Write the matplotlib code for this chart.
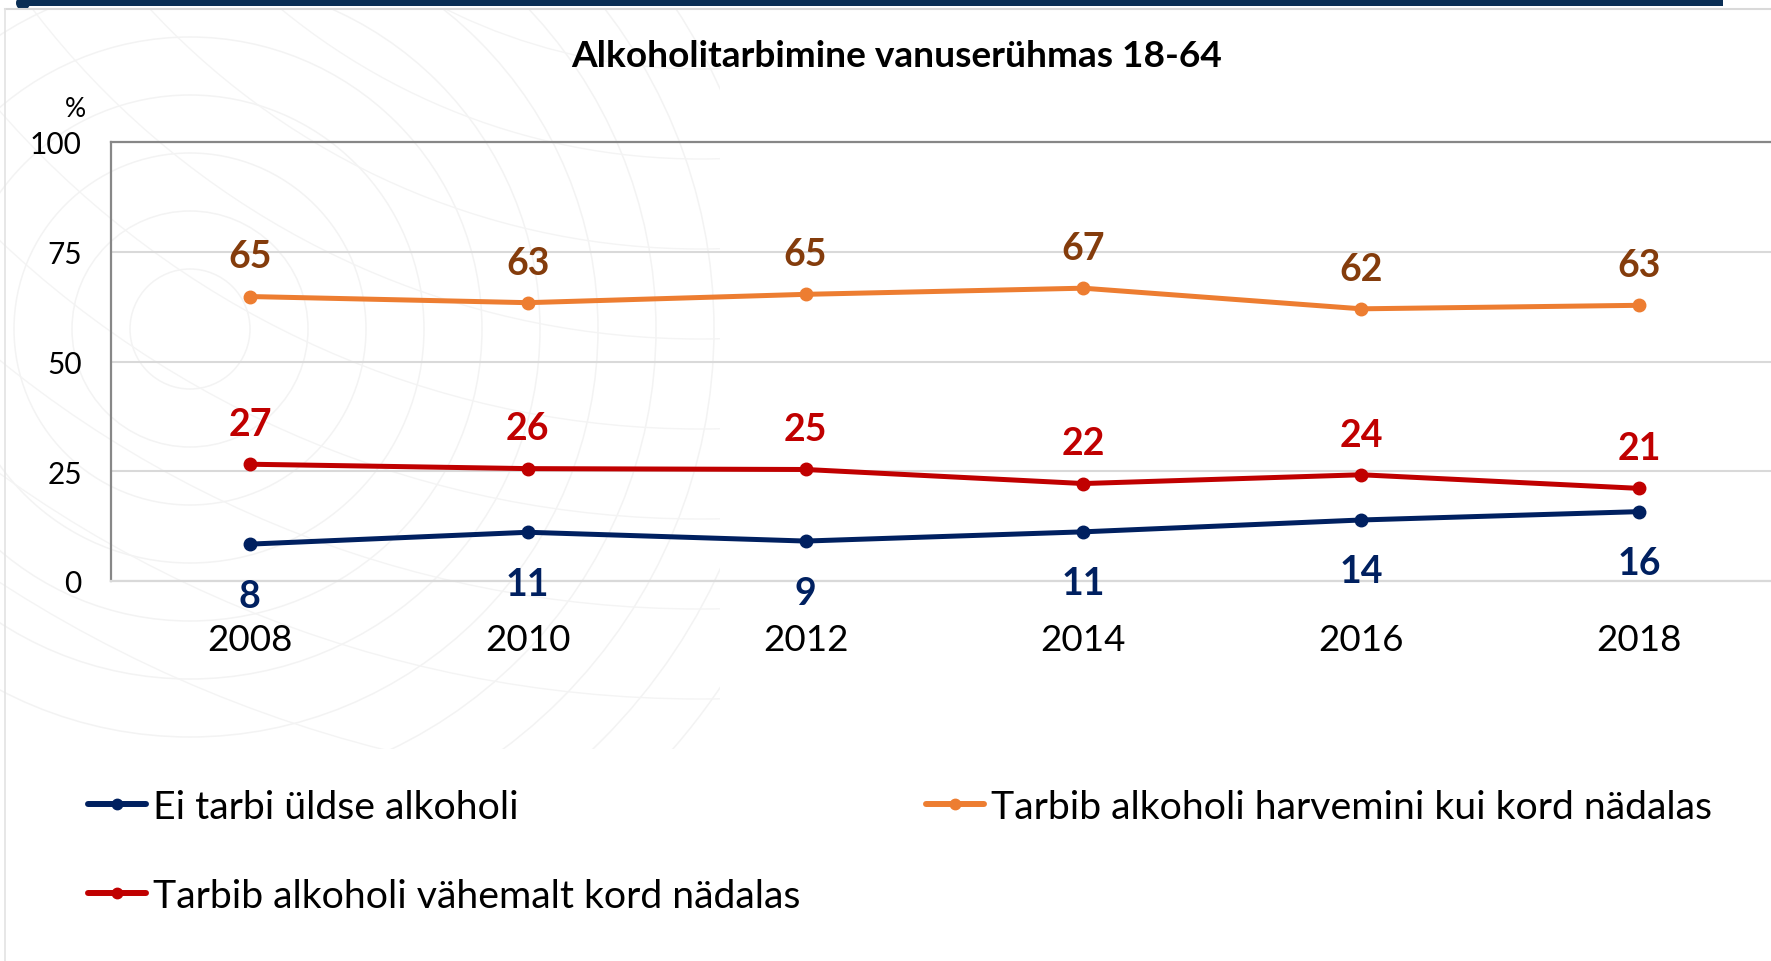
import matplotlib
matplotlib.use("Agg")
import matplotlib.pyplot as plt
from matplotlib.lines import Line2D
from matplotlib.patches import Circle, Rectangle

plt.rcParams['font.family'] = ['Lato', 'DejaVu Sans']

# ---------------- data ----------------
title = "Alkoholitarbimine vanuserühmas 18-64"
years = ["2008", "2010", "2012", "2014", "2016", "2018"]
ei_tarbi = [8.4, 11.1, 9.1, 11.2, 13.9, 15.8]
harvemini = [64.8, 63.4, 65.3, 66.7, 62.0, 62.8]
vahemalt = [26.6, 25.6, 25.4, 22.2, 24.2, 21.1]
name_ei = "Ei tarbi üldse alkoholi"
name_harv = "Tarbib alkoholi harvemini kui kord nädalas"
name_vah = "Tarbib alkoholi vähemalt kord nädalas"
yticks = [0, 25, 50, 75, 100]

c_blue, c_orange, c_red = "#002060", "#ED7D31", "#C00000"
c_orange_lbl = "#843C0C"

W, H = 1771, 962
fig = plt.figure(figsize=(W / 100, H / 100), dpi=100)
fig.patch.set_facecolor("white")
def fx(px): return px / W
def fy(py): return 1 - py / H

# ------------- background decoration (pixel coords) -------------
bg = fig.add_axes([0, 0, 1, 1], zorder=0)
bg.set_xlim(0, W); bg.set_ylim(H, 0); bg.axis("off")
clip = Rectangle((0, 10), 720, 740, transform=bg.transData, facecolor="none", edgecolor="none")
bg.add_patch(clip)
for r in range(60, 700, 58):
    c = Circle((190, 330), r, fill=False, edgecolor="#f3f3f3", lw=1.1)
    bg.add_patch(c); c.set_clip_path(clip)
for r in range(300, 1300, 90):
    c = Circle((700, -500), r, fill=False, edgecolor="#f4f4f4", lw=1.0)
    bg.add_patch(c); c.set_clip_path(clip)
bg.add_patch(Rectangle((17, 0), 1723 - 17, 6.5, facecolor="#0A2E55", edgecolor="none"))
bg.add_patch(Circle((23, 4), 7, facecolor="#0A2E55", edgecolor="none"))
bg.plot([5, W], [9.5, 9.5], color="#d9d9d9", lw=1.5)
bg.plot([5, 5], [9.5, H], color="#e3e3e3", lw=1.2)

# ------------- main axes -------------
ax = fig.add_axes([fx(111), fy(582), (1778 - 111) / W, (582 - 143) / H], zorder=2)
ax.patch.set_alpha(0)
x = list(range(len(years)))
series = [(ei_tarbi, c_blue, c_blue, -45),
          (harvemini, c_orange, c_orange_lbl, 21),
          (vahemalt, c_red, c_red, 21)]
for vals, col, lcol, off in series:
    ax.plot(x, vals, color=col, lw=3.6, marker="o", ms=9, solid_capstyle="round", zorder=3)
    for xi, v in zip(x, vals):
        ax.annotate(f"{round(v)}", (xi, v), xytext=(0, off), textcoords="offset points",
                    ha="center", va="baseline", fontsize=27, fontweight="bold", color=lcol)

ax.set_xlim(-0.5, 5.5)
ax.set_ylim(0, 100)
ax.set_yticks(yticks)
ax.set_yticklabels([str(t) for t in yticks])
ax.set_xticks(x)
ax.set_xticklabels(years)
ax.grid(axis="y", color="#d9d9d9", lw=1.5)
ax.set_axisbelow(True)
ax.tick_params(axis="both", length=0)
ax.tick_params(axis="y", labelsize=21.5, pad=21)
ax.tick_params(axis="x", labelsize=26.5, pad=30)
for s in ["left", "top"]:
    ax.spines[s].set_color("#878787"); ax.spines[s].set_linewidth(1.6)
ax.spines["bottom"].set_color("#d9d9d9"); ax.spines["bottom"].set_linewidth(1.6)
ax.spines["right"].set_visible(False)

fig.text(fx(75), fy(117), "%", ha="center", va="baseline", fontsize=19)

# ------------- title, fitted to width -------------
renderer = fig.canvas.get_renderer()
def text_width(s, size, weight="normal"):
    t = fig.text(0, 0, s, fontsize=size, fontweight=weight)
    w = t.get_window_extent(renderer).width
    t.remove()
    return w

tsize = 24 * 650 / text_width(title, 24, "bold")
fig.text(fx(897), fy(67), title, ha="center", va="baseline", fontsize=tsize, fontweight="bold")

# ------------- legend -------------
lsize = 25 * (362 + 728 + 654) / (text_width(name_ei, 25) + text_width(name_harv, 25) + text_width(name_vah, 25))
fpx = lsize * 100 / 72
entries = [(name_ei, c_blue, 88, 808), (name_harv, c_orange, 926, 808), (name_vah, c_red, 88, 897)]
for name, col, px, py in entries:
    h = Line2D([], [], color=col, lw=4.3, marker="o", ms=7.5, solid_capstyle="round")
    fig.legend(handles=[h], labels=[name], loc="center left", bbox_to_anchor=(fx(px), fy(py)),
               frameon=False, borderpad=0, borderaxespad=0, handlelength=58 / fpx,
               handletextpad=7 / fpx, prop={"size": lsize})

fig.savefig("out.png", dpi=100)
